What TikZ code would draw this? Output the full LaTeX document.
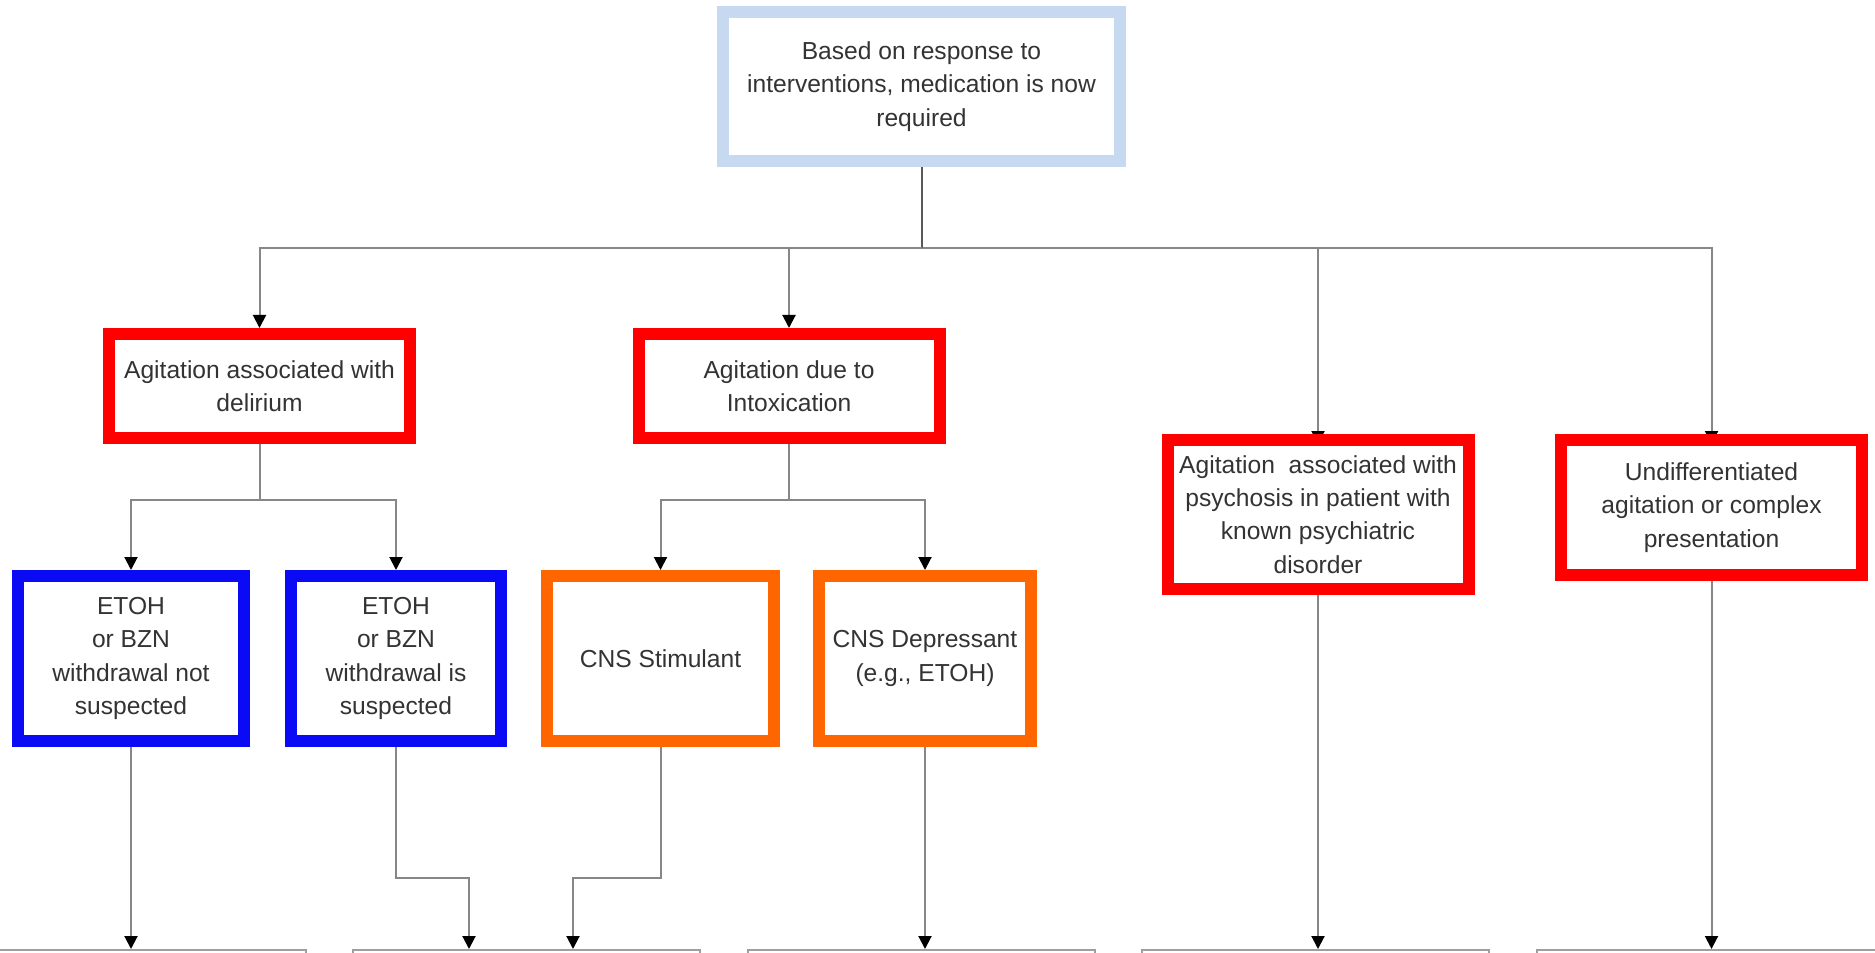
\documentclass[tikz,border=0pt]{standalone}
\usepackage{fontspec}
\setmainfont{Liberation Sans}
\setsansfont{Liberation Sans}
\usetikzlibrary{
  arrows.meta,
  positioning,
  backgrounds
}
\definecolor{startblue}{RGB}{198,217,240}
\definecolor{alertred}{RGB}{255,0,0}
\definecolor{etohblue}{RGB}{10,10,245}
\definecolor{cnsorange}{RGB}{255,102,0}
\definecolor{wire}{RGB}{135,135,135}
\definecolor{ink}{RGB}{51,51,51}

\begin{document}
\begin{tikzpicture}[
  every node/.style={font=\sffamily},
  box/.style={draw, fill=white, line width=0.24cm, align=center, inner sep=0pt,
              text=ink, font=\sffamily\fontsize{14}{19}\selectfont},
  start/.style={box, draw=startblue, minimum width=7.94cm, minimum height=2.98cm},
  category/.style={box, draw=alertred, minimum width=6.02cm},
  withdrawal/.style={box, draw=etohblue, minimum height=3.30cm},
  substance/.style={box, draw=cnsorange, minimum height=3.30cm},
  nextbox/.style={draw=wire!80, fill=white, line width=0.04cm,
                  minimum width=6.94cm, minimum height=2cm},
  link/.style={draw=wire, line width=0.04cm},
  flow/.style={link, -{Triangle[width=0.26cm, length=0.26cm, color=black]}},
]

\useasboundingbox (0,0) rectangle (37.5,-19.06);
\clip (0,0) rectangle (37.5,-19.06);

\node[start] (top) at (18.43,-1.73) {Based on response to\\interventions, medication is now\\required};

\node[category, minimum height=2.08cm] (d1) at (5.19,-7.72)  {Agitation associated with\\delirium};
\node[category, minimum height=2.08cm] (d2) at (15.78,-7.72) {Agitation due to\\Intoxication};
\node[category, minimum height=2.98cm] (d3) at (26.36,-10.29) {Agitation\ \ associated with\\psychosis in patient with\\known psychiatric\\disorder};
\node[category, minimum height=2.70cm] (d4) at (34.23,-10.15) {Undifferentiated\\agitation or complex\\presentation};

\node[withdrawal, minimum width=4.52cm] (e1) at (2.62,-13.17) {ETOH\\or BZN\\withdrawal not\\suspected};
\node[withdrawal, minimum width=4.20cm] (e2) at (7.92,-13.17) {ETOH\\or BZN\\withdrawal is\\suspected};
\node[substance, minimum width=4.54cm] (s1) at (13.21,-13.17) {CNS Stimulant};
\node[substance, minimum width=4.24cm] (s2) at (18.50,-13.17) {CNS Depressant\\(e.g., ETOH)};

% next step boxes, cut off at the page edge
\node[nextbox] (n1) at (2.64,-20.0)  {};
\node[nextbox] (n2) at (10.53,-20.0) {};
\node[nextbox] (n3) at (18.43,-20.0) {};
\node[nextbox] (n4) at (26.31,-20.0) {};
\node[nextbox] (n5) at (34.20,-20.0) {};

\coordinate (bus) at (18.43,-4.96);
\coordinate (j1) at (5.19,-10.0);
\coordinate (j2) at (15.78,-10.0);
\coordinate (k1) at (9.38,-17.56);
\coordinate (k2) at (11.46,-17.56);

\draw[link, draw=black!65] (top) -- (bus);
\draw[flow] (bus) -| (d1);
\draw[flow] (bus) -| (d2);
% these two tips sit under the red border
\begin{scope}[on background layer]
  \draw[flow, shorten >=-0.2cm] (bus) -| (d3);
  \draw[flow, shorten >=-0.2cm] (bus) -| (d4);
\end{scope}

\draw[link] (d1) -- (j1);
\draw[flow] (j1) -| (e1);
\draw[flow] (j1) -| (e2);
\draw[link] (d2) -- (j2);
\draw[flow] (j2) -| (s1);
\draw[flow] (j2) -| (s2);

\draw[flow] (e1) -- (e1 |- n1.north);
\draw[flow] (e2) |- (k1) -- (k1 |- n2.north);
\draw[flow] (s1) |- (k2) -- (k2 |- n2.north);
\draw[flow] (s2) -- (s2 |- n3.north);
\draw[flow] (d3) -- (d3 |- n4.north);
\draw[flow] (d4) -- (d4 |- n5.north);

\end{tikzpicture}
\end{document}
